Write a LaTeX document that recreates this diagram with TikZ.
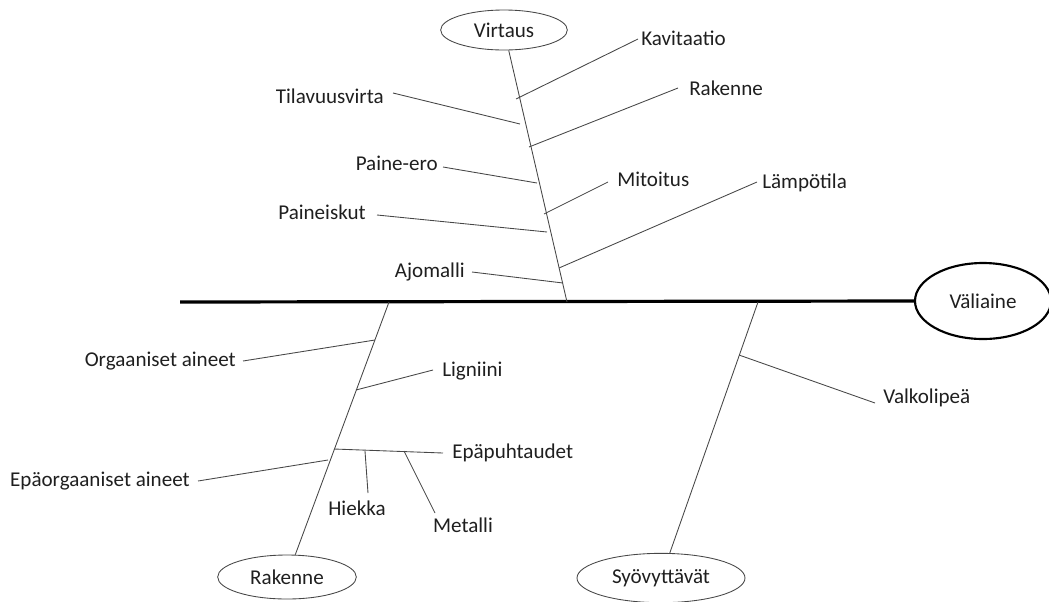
\documentclass[tikz,border=0pt]{standalone}
\usepackage{fontspec}
\setmainfont{Carlito}
\usetikzlibrary{shapes.geometric}
\begin{document}
\begin{tikzpicture}[x=0.75pt,y=-0.75pt,
  bone/.style={draw=black!72, line width=0.65pt},
  spine/.style={draw=black, line width=2.4pt},
  lbl/.style={font=\fontsize{15.8}{19}\selectfont, inner sep=0pt, text=black!88},
  cause/.style={ellipse, draw=black!72, line width=0.65pt, inner sep=0pt,
    font=\fontsize{15.8}{19}\selectfont, text=black!88},
  effect/.style={ellipse, draw=black, line width=1.6pt, inner sep=0pt,
    font=\fontsize{15.8}{19}\selectfont, text=black!88}
]
\useasboundingbox (0,0) rectangle (1049,601);

% effect and main categories
\node[effect, minimum width=102pt, minimum height=57pt] (valiaine) at (983,301) {Väliaine};
\node[cause, minimum width=95pt, minimum height=30pt] (virtaus) at (504,30) {Virtaus};
\node[cause, minimum width=104pt, minimum height=33pt] (rakenne) at (287,577) {Rakenne};
\node[cause, minimum width=126pt, minimum height=37pt] (syov) at (661,578) {Syövyttävät};

% main spine
\coordinate (tail) at (180,302);
\coordinate (mV) at (567,302);
\coordinate (mR) at (389,302);
\coordinate (mS) at (758,302);
\draw[spine] (tail) -- (valiaine.west);

% category bones
\draw[bone] (virtaus) -- (mV);
\draw[bone] (mR) -- (rakenne);
\draw[bone] (mS) -- (syov);

% Virtaus branches
\coordinate (vKav) at (516,99);
\coordinate (vTil) at (520,124);
\coordinate (vRak) at (529,147);
\coordinate (vPe)  at (537,183);
\coordinate (vMit) at (544,214);
\coordinate (vPi)  at (547,232);
\coordinate (vLam) at (559,268);
\coordinate (vAjo) at (563,283);
\coordinate (eKav) at (638,39);
\coordinate (eTil) at (393,93);
\coordinate (eRak) at (678,88);
\coordinate (ePe)  at (443,167);
\coordinate (eMit) at (608,182);
\coordinate (ePi)  at (377,215);
\coordinate (eLam) at (757,182);
\coordinate (eAjo) at (472,272);
\draw[bone] (vKav) -- (eKav);
\draw[bone] (vTil) -- (eTil);
\draw[bone] (vRak) -- (eRak);
\draw[bone] (vPe)  -- (ePe);
\draw[bone] (vMit) -- (eMit);
\draw[bone] (vPi)  -- (ePi);
\draw[bone] (vLam) -- (eLam);
\draw[bone] (vAjo) -- (eAjo);
\node[lbl, anchor=west] (tKav) at (641,38) {Kavitaatio};
\node[lbl, anchor=east] (tTil) at (384,96) {Tilavuusvirta};
\node[lbl, anchor=west] (tRak) at (689,88) {Rakenne};
\node[lbl, anchor=east] (tPe)  at (438,163) {Paine-ero};
\node[lbl, anchor=west] (tMit) at (617,179) {Mitoitus};
\node[lbl, anchor=east] (tPi)  at (366,212) {Paineiskut};
\node[lbl, anchor=west] (tLam) at (762,183) {Lämpötila};
\node[lbl, anchor=east] (tAjo) at (465,272) {Ajomalli};

% Rakenne branches
\coordinate (rOrg) at (375,340);
\coordinate (rLig) at (356,390);
\coordinate (rEpo) at (328,460);
\coordinate (rEpu) at (334,449);
\coordinate (eOrg) at (243,361);
\coordinate (eLig) at (433,370);
\coordinate (eEpo) at (198,481);
\coordinate (eEpu) at (443,453);
\coordinate (rHie) at (365,451);
\coordinate (eHie) at (368,493);
\coordinate (rMet) at (404,451);
\coordinate (eMet) at (435,513);
\draw[bone] (rOrg) -- (eOrg);
\draw[bone] (rLig) -- (eLig);
\draw[bone] (rEpo) -- (eEpo);
\draw[bone] (rEpu) -- (eEpu);
\draw[bone] (rHie) -- (eHie);
\draw[bone] (rMet) -- (eMet);
\node[lbl, anchor=east] (tOrg) at (236,361) {Orgaaniset aineet};
\node[lbl, anchor=west] (tLig) at (442,371) {Ligniini};
\node[lbl, anchor=east] (tEpo) at (190,481) {Epäorgaaniset aineet};
\node[lbl, anchor=west] (tEpu) at (452,453) {Epäpuhtaudet};
\node[lbl] (tHie) at (357,508) {Hiekka};
\node[lbl] (tMet) at (463,525) {Metalli};

% Syövyttävät branch
\coordinate (sVal) at (739,355);
\coordinate (eVal) at (875,403);
\draw[bone] (sVal) -- (eVal);
\node[lbl, anchor=west] (tVal) at (883,398) {Valkolipeä};
\end{tikzpicture}
\end{document}
